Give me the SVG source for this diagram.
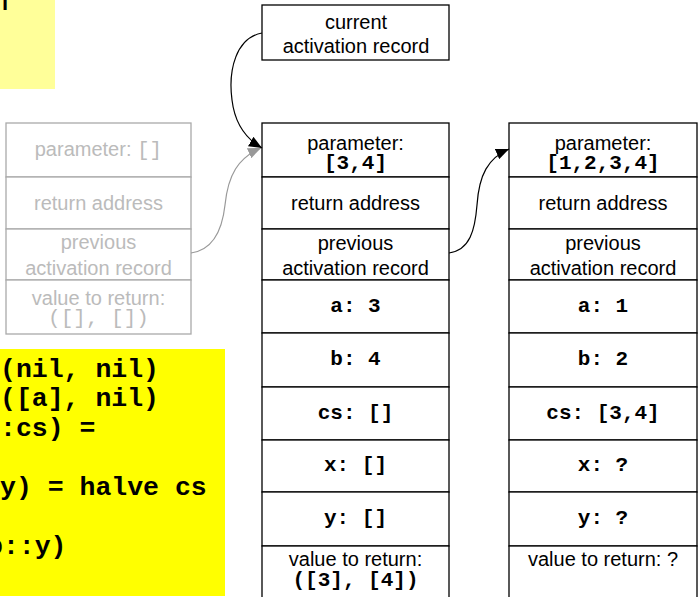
<svg xmlns="http://www.w3.org/2000/svg" width="698" height="597" viewBox="0 0 698 597">
<style>
.cell{fill:#fff;stroke:#000;stroke-width:1.3}
.gcell{fill:#fff;stroke:#aaa;stroke-width:1.3}
.s{font-family:"Liberation Sans",Arial,sans-serif;font-size:20px;text-anchor:middle;fill:#000}
.m{font-family:"Liberation Mono","Courier New",monospace;font-weight:bold;font-size:21px;text-anchor:middle;fill:#000}
.g{fill:#bbb}
.gm{font-family:"Liberation Mono","Courier New",monospace;font-size:21px;fill:#bbb}
.code{font-family:"Liberation Mono","Courier New",monospace;font-weight:bold;font-size:26.5px;fill:#000}
.conn{fill:none;stroke:#000;stroke-width:1.2}
.gconn{fill:none;stroke:#999;stroke-width:1.2}
</style>
<defs>
<marker id="ah" markerUnits="userSpaceOnUse" markerWidth="14" markerHeight="11" refX="13" refY="5.5" orient="auto">
<path d="M0,0 L13,5.5 L0,11 z" fill="#000"/>
</marker>
<marker id="ahg" markerUnits="userSpaceOnUse" markerWidth="14" markerHeight="11" refX="13" refY="5.5" orient="auto">
<path d="M0,0 L13,5.5 L0,11 z" fill="#999"/>
</marker>
</defs>
<rect width="698" height="597" fill="#fff"/>

<g id="note-top">
<rect x="0" y="0" width="55" height="89" fill="#ffff99"/>
<text x="2" y="10" font-family="Liberation Sans,Arial,sans-serif" font-size="22" font-weight="bold" fill="#000">l</text>
</g>

<g id="code">
<rect x="0" y="349" width="225" height="247" fill="#ffff00"/>
<text class="code" x="0" y="377">(nil, nil)</text>
<text class="code" x="0" y="406">([a], nil)</text>
<text class="code" x="0" y="436">:cs) =</text>
<text class="code" x="0" y="495">y) = halve cs</text>
<text class="code" x="-13" y="554">b::y)</text>
</g>

<g id="prev-record">
<rect class="gcell" x="6" y="123" width="185" height="54"/>
<rect class="gcell" x="6" y="177" width="185" height="52"/>
<rect class="gcell" x="6" y="229" width="185" height="51"/>
<rect class="gcell" x="6" y="280" width="185" height="54"/>
<text class="s g" x="98.5" y="156">parameter: <tspan class="gm">[]</tspan></text>
<text class="s g" x="98.5" y="210">return address</text>
<text class="s g" x="98.5" y="249">previous</text>
<text class="s g" x="98.5" y="275">activation record</text>
<text class="s g" x="98.5" y="305">value to return:</text>
<text class="gm" x="98.5" y="324" text-anchor="middle">([], [])</text>
</g>

<g id="current">
<rect class="cell" x="262" y="5" width="187" height="55"/>
<text class="s" x="356" y="29">current</text>
<text class="s" x="356" y="53">activation record</text>
</g>

<g id="record-mid">
<rect class="cell" x="262" y="123" width="187" height="54"/>
<rect class="cell" x="262" y="177" width="187" height="52"/>
<rect class="cell" x="262" y="229" width="187" height="51"/>
<rect class="cell" x="262" y="280" width="187" height="53"/>
<rect class="cell" x="262" y="333" width="187" height="54"/>
<rect class="cell" x="262" y="387" width="187" height="53"/>
<rect class="cell" x="262" y="440" width="187" height="52"/>
<rect class="cell" x="262" y="492" width="187" height="54"/>
<rect class="cell" x="262" y="546" width="187" height="60"/>
<text class="s" x="355.5" y="150">parameter:</text>
<text class="m" x="355.5" y="169">[3,4]</text>
<text class="s" x="355.5" y="210">return address</text>
<text class="s" x="355.5" y="250">previous</text>
<text class="s" x="355.5" y="275">activation record</text>
<text class="m" x="355.5" y="312">a: 3</text>
<text class="m" x="355.5" y="365">b: 4</text>
<text class="m" x="355.5" y="419">cs: []</text>
<text class="m" x="355.5" y="471">x: []</text>
<text class="m" x="355.5" y="524">y: []</text>
<text class="s" x="355.5" y="566">value to return:</text>
<text class="m" x="355.5" y="586">([3], [4])</text>
</g>

<g id="record-right">
<rect class="cell" x="509" y="123" width="188" height="54"/>
<rect class="cell" x="509" y="177" width="188" height="52"/>
<rect class="cell" x="509" y="229" width="188" height="51"/>
<rect class="cell" x="509" y="280" width="188" height="53"/>
<rect class="cell" x="509" y="333" width="188" height="54"/>
<rect class="cell" x="509" y="387" width="188" height="53"/>
<rect class="cell" x="509" y="440" width="188" height="52"/>
<rect class="cell" x="509" y="492" width="188" height="54"/>
<rect class="cell" x="509" y="546" width="188" height="60"/>
<text class="s" x="603" y="150">parameter:</text>
<text class="m" x="603" y="169">[1,2,3,4]</text>
<text class="s" x="603" y="210">return address</text>
<text class="s" x="603" y="250">previous</text>
<text class="s" x="603" y="275">activation record</text>
<text class="m" x="603" y="312">a: 1</text>
<text class="m" x="603" y="365">b: 2</text>
<text class="m" x="603" y="419">cs: [3,4]</text>
<text class="m" x="603" y="471">x: ?</text>
<text class="m" x="603" y="524">y: ?</text>
<text class="s" x="603" y="566">value to return: ?</text>
</g>

<g id="connectors">
<path class="gconn" d="M191,253 C212,250 222,232 225,205 C228,175 238,158 261,148" marker-end="url(#ahg)"/>
<path class="conn" d="M262,33 C236,38 228,70 232,100 C235,125 248,140 262,148" marker-end="url(#ah)"/>
<path class="conn" d="M449,253 C470,250 475,230 477,205 C479,175 488,158 509,149" marker-end="url(#ah)"/>
</g>
</svg>
